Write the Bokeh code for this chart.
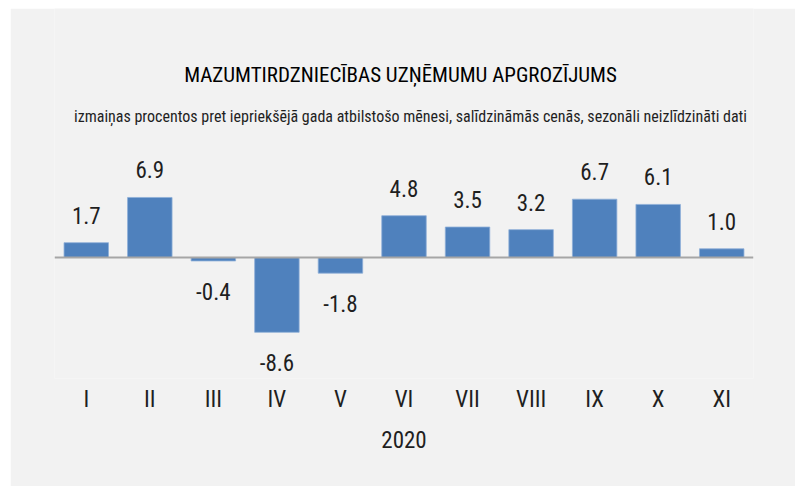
from bokeh.plotting import figure
from bokeh.models import ColumnDataSource, Span, Label, FactorRange, Range1d
from bokeh.core.properties import value
from bokeh.embed import file_html
from bokeh.resources import INLINE

months = ["I", "II", "III", "IV", "V", "VI", "VII", "VIII", "IX", "X", "XI"]
values = [1.7, 6.9, -0.4, -8.6, -1.8, 4.8, 3.5, 3.2, 6.7, 6.1, 1.0]
year_label = "2020"
title_text = "MAZUMTIRDZNIECĪBAS UZŅĒMUMU APGROZĪJUMS"
subtitle_text = ("izmaiņas procentos pret iepriekšējā gada atbilstošo mēnesi, "
                 "salīdzināmās cenās, sezonāli neizlīdzināti dati")

FONT = "Roboto Condensed"
BG = "#f2f2f2"
TXT = "#1f1f1f"

labels = [f"{v:.1f}" for v in values]
pos_v = [v for v in values if v >= 0]
pos_m = [m for m, v in zip(months, values) if v >= 0]
pos_l = [l for l, v in zip(labels, values) if v >= 0]
neg_v = [v for v in values if v < 0]
neg_m = [m for m, v in zip(months, values) if v < 0]
neg_l = [l for l, v in zip(labels, values) if v < 0]

src = ColumnDataSource(dict(m=months, v=values))
src_pos = ColumnDataSource(dict(m=pos_m, v=pos_v, t=pos_l))
src_neg = ColumnDataSource(dict(m=neg_m, v=neg_v, t=neg_l))

p = figure(width=785, height=478, x_range=FactorRange(*months, range_padding=0),
           y_range=Range1d(-13.91, 28.62), output_backend="svg",
           toolbar_location=None, title=None,
           min_border_left=44, min_border_right=42,
           min_border_top=0, min_border_bottom=108)
p.margin = (8, 0, 0, 10)

p.background_fill_color = BG
p.border_fill_color = BG
p.outline_line_color = None
p.xgrid.grid_line_color = None
p.ygrid.grid_line_color = None
p.yaxis.visible = False

p.vbar(x="m", top="v", bottom=0, width=0.7, source=src,
       fill_color="#4f81bd", line_color="#8eaed8", line_width=0.8)

p.add_layout(Span(location=0, dimension="width", line_color="#a6a6a6", line_width=2))

p.text(x="m", y="v", text="t", source=src_pos, text_align="center",
       text_baseline="bottom", y_offset=-19, text_font=value(FONT),
       text_font_size="23px", text_color=TXT)
p.text(x="m", y="v", text="t", source=src_neg, text_align="center",
       text_baseline="top", y_offset=22, text_font=value(FONT),
       text_font_size="23px", text_color=TXT)

ax = p.xaxis[0]
ax.axis_line_color = None
ax.major_tick_line_color = None
ax.minor_tick_line_color = None
ax.major_label_text_font = FONT
ax.major_label_text_font_size = "23px"
ax.major_label_text_color = TXT
ax.major_label_standoff = 1
ax.axis_label = year_label
ax.axis_label_text_font = FONT
ax.axis_label_text_font_size = "23px"
ax.axis_label_text_font_style = "normal"
ax.axis_label_text_color = TXT
ax.axis_label_standoff = 15

# titles in screen units relative to the plot frame (y measured up from frame bottom)
main = Label(x=346, y=304, x_units="screen", y_units="screen", text=title_text,
             text_align="center", text_baseline="middle", text_font=FONT,
             text_font_size="21px", text_color="#000000")
sub = Label(x=356, y=262, x_units="screen", y_units="screen", text=subtitle_text,
            text_align="center", text_baseline="middle", text_font=FONT,
            text_font_size="16px", text_color=TXT)
p.add_layout(main)
p.add_layout(sub)

open("out.html", "w").write(file_html(p, INLINE))
